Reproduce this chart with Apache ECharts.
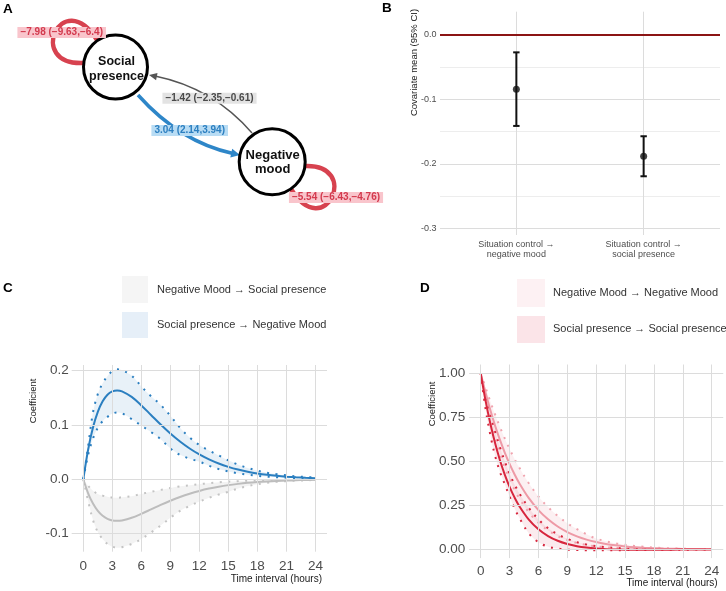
<!DOCTYPE html>
<html><head><meta charset="utf-8">
<script src="https://cdn.jsdelivr.net/npm/echarts@6/dist/echarts.min.js"></script>
<style>html,body{margin:0;padding:0;background:#fff}#c{width:726px;height:591px}</style>
</head><body><div id="c"></div>
<script>
// ---------- data ----------
// Panel A (network)
const nodeNames = ['Social\npresence', 'Negative\nmood'];
const edgeLabelText = ['−7.98 (−9.63,−6.4)', '−5.54 (−6.43,−4.76)', '−1.42 (−2.35,−0.61)', '3.04 (2.14,3.94)'];

// Panel B
const bCategories = ['Situation control →\nnegative mood', 'Situation control →\nsocial presence'];
const bMean  = [-0.084, -0.188];
const bLower = [-0.141, -0.219];
const bUpper = [-0.027, -0.157];
const bYTicks = [-0.3, -0.2, -0.1, 0.0];
const bYMinor = [-0.25, -0.15, -0.05];

// Panels C and D
const hours = [0,0.5,1,1.5,2,2.5,3,3.5,4,5,6,7,8,9,10,11,12,13,14,15,16,17,18,19,20,21,22,23,24];
const hourTicks = [0,3,6,9,12,15,18,21,24];
const cYTicks = [-0.1, 0.0, 0.1, 0.2];
const dYTicks = [0, 0.25, 0.5, 0.75, 1];

const spToNm   = [0,0.055,0.0955,0.1243,0.1437,0.1558,0.1620,0.1637,0.1620,0.1517,0.1361,0.1185,0.1009,0.0844,0.0697,0.0568,0.0458,0.0367,0.0291,0.0229,0.0179,0.0140,0.0108,0.0083,0.0064,0.0049,0.0037,0.0028,0.0021];
const spToNmHi = [0,0.061,0.123,0.157,0.177,0.19,0.199,0.2025,0.201,0.191,0.171,0.153,0.137,0.117,0.095,0.077,0.063,0.053,0.044,0.035,0.027,0.021,0.016,0.012,0.0095,0.0072,0.0055,0.0042,0.0032];
const spToNmLo = [0,0.045,0.075,0.095,0.107,0.115,0.121,0.123,0.1215,0.111,0.099,0.087,0.074,0.057,0.045,0.038,0.0325,0.025,0.019,0.0145,0.011,0.0085,0.0065,0.005,0.0038,0.003,0.0022,0.0017,0.0013];

const nmToSp   = [0,-0.0257,-0.0446,-0.0581,-0.0671,-0.0728,-0.0757,-0.0765,-0.0757,-0.0709,-0.0636,-0.0554,-0.0471,-0.0394,-0.0325,-0.0265,-0.0214,-0.0171,-0.0136,-0.0107,-0.0084,-0.0065,-0.0050,-0.0039,-0.0030,-0.0023,-0.0017,-0.0013,-0.0010];
const nmToSpHi = [0,-0.012,-0.021,-0.027,-0.030,-0.032,-0.0335,-0.034,-0.033,-0.031,-0.027,-0.023,-0.0195,-0.016,-0.013,-0.011,-0.009,-0.007,-0.0055,-0.0043,-0.0034,-0.0026,-0.002,-0.0015,-0.0012,-0.0009,-0.0007,-0.0005,-0.0004];
const nmToSpLo = [0,-0.04,-0.075,-0.097,-0.11,-0.119,-0.124,-0.126,-0.125,-0.119,-0.11,-0.098,-0.085,-0.071,-0.058,-0.049,-0.041,-0.034,-0.028,-0.023,-0.017,-0.0125,-0.009,-0.0065,-0.0047,-0.0034,-0.0025,-0.0018,-0.0013];

const spToSp   = [1,0.846,0.7143,0.6019,0.506,0.4244,0.355,0.2962,0.2464,0.1688,0.1138,0.0752,0.0484,0.0301,0.0177,0.0096,0.0043,0.001,-0.0009,-0.0019,-0.0024,-0.0025,-0.0024,-0.0022,-0.0019,-0.0017,-0.0014,-0.0012,-0.001];
const spToSpHi = [1,0.88,0.77,0.67,0.58,0.50,0.43,0.37,0.32,0.235,0.17,0.12,0.085,0.06,0.04,0.027,0.018,0.012,0.008,0.005,0.003,0.002,0.0012,0.0006,0.0003,0.0001,0,0,0];
const spToSpLo = [1,0.80,0.65,0.53,0.44,0.37,0.30,0.235,0.18,0.09,0.04,0.015,0.004,-0.002,-0.004,-0.005,-0.005,-0.005,-0.005,-0.0045,-0.004,-0.0035,-0.003,-0.0027,-0.0024,-0.002,-0.0018,-0.0015,-0.0013];

const nmToNm   = [1,0.8902,0.791,0.7016,0.6213,0.5494,0.485,0.4276,0.3764,0.2905,0.223,0.1703,0.1294,0.0979,0.0736,0.0551,0.0411,0.0305,0.0225,0.0165,0.012,0.0087,0.0063,0.0045,0.0032,0.0022,0.0015,0.0011,0.0007];
const nmToNmHi = [1,0.92,0.84,0.765,0.695,0.63,0.57,0.515,0.465,0.375,0.30,0.24,0.19,0.148,0.115,0.085,0.061,0.046,0.034,0.026,0.019,0.014,0.0098,0.007,0.005,0.0035,0.0025,0.0018,0.0012];
const nmToNmLo = [1,0.86,0.74,0.635,0.545,0.465,0.40,0.34,0.29,0.21,0.15,0.107,0.075,0.052,0.036,0.025,0.017,0.012,0.008,0.0055,0.0037,0.0025,0.0017,0.0011,0.0007,0.0005,0.0003,0.0002,0.0001];

const cLegend = ['Negative Mood → Social presence', 'Social presence → Negative Mood'];
const dLegend = ['Negative Mood → Negative Mood', 'Social presence → Social presence'];

// ---------- helpers ----------
const FONT = '"Liberation Sans", Arial, Helvetica, sans-serif';
const GRID = '#dcdcdc';
const pts = (xs, ys) => xs.map((x, i) => [x, ys[i]]);

function gridSeries(idx, xs, ys, minorYs) {
  const d = [];
  (minorYs || []).forEach(v => d.push({yAxis: v, lineStyle: {color: '#ededed', width: 1, type: 'solid'}}));
  ys.forEach(v => d.push({yAxis: v}));
  xs.forEach(v => d.push({xAxis: v}));
  return {type: 'line', xAxisIndex: idx, yAxisIndex: idx, data: [], silent: true, z: 0,
    markLine: {symbol: 'none', silent: true, animation: false, label: {show: false},
      emphasis: {disabled: true}, lineStyle: {color: GRID, width: 1, type: 'solid'}, data: d}};
}
// ribbon between lower and upper bounds, drawn as one polygon through the axis scales
function band(idx, lo, hi, color) {
  return {type: 'custom', xAxisIndex: idx, yAxisIndex: idx, silent: true, z: 1,
    data: hours.map((h, i) => [h, lo[i], hi[i]]),
    renderItem: function (params, api) {
      if (params.dataIndexInside !== 0) return null;
      const n = params.dataInsideLength;
      const up = [], dn = [];
      for (let i = 0; i < n; i++) {
        up.push(api.coord([api.value(0, i), api.value(2, i)]));
        dn.push(api.coord([api.value(0, i), api.value(1, i)]));
      }
      return {type: 'polygon', shape: {points: up.concat(dn.reverse()), smooth: 0.3},
        style: {fill: color, stroke: null}};
    }};
}
function dotted(idx, ys, color) {
  return {type: 'line', xAxisIndex: idx, yAxisIndex: idx, data: pts(hours, ys), symbol: 'none', smooth: 0.35,
    lineStyle: {color: color, width: 2, type: [2, 6.5], cap: 'butt'}, silent: true, z: 2};
}
function solid(idx, ys, color) {
  return {type: 'line', xAxisIndex: idx, yAxisIndex: idx, data: pts(hours, ys), symbol: 'none', smooth: 0.35,
    lineStyle: {color: color, width: 2}, silent: true, z: 3};
}
function valAxis(idx, min, max, ticks, fmt, fontSize, margin, lineHeight) {
  return {gridIndex: idx, type: 'value', min: min, max: max,
    axisLine: {show: false}, axisTick: {show: false}, splitLine: {show: false},
    axisLabel: {customValues: ticks, formatter: fmt, color: '#4d4d4d', fontSize: fontSize,
      lineHeight: lineHeight, fontFamily: FONT, margin: margin, hideOverlap: false}};
}

// ---------- panel A graphics ----------
const spC = [115.5, 67], nmC = [272.2, 161.7];
const RED = '#d7424f';
function lbl(text, x, y, fill, bg) {
  return {type: 'text', x: x, y: y, z: 50, style: {text: text, fill: fill, fontSize: 10, fontWeight: 'bold',
    fontFamily: FONT, align: 'center', verticalAlign: 'middle', backgroundColor: bg, padding: [1, 3, 0, 3]}};
}
const graphicA = [
  {type: 'bezierCurve', z: 10, shape: {x1: 84, y1: 63, cpx1: 25, cpy1: 66, cpx2: 62, cpy2: -15, x2: 97, y2: 40},
   style: {stroke: RED, lineWidth: 4.5, fill: null}},
  {type: 'bezierCurve', z: 10, shape: {x1: 304, y1: 166, cpx1: 362, cpy1: 163, cpx2: 325, cpy2: 244, x2: 291, y2: 189},
   style: {stroke: RED, lineWidth: 4.5, fill: null}},
  {type: 'bezierCurve', z: 10, shape: {x1: 138, y1: 95, cpx1: 180, cpy1: 142, x2: 233, y2: 153.5},
   style: {stroke: '#2e86c8', lineWidth: 3.5, fill: null}},
  {type: 'polygon', z: 11, shape: {points: [[240, 155], [230.3, 157.6], [232.2, 148.7]]}, style: {fill: '#2e86c8'}},
  {type: 'bezierCurve', z: 10, shape: {x1: 252, y1: 133, cpx1: 213, cpy1: 88, x2: 156, y2: 76.3},
   style: {stroke: '#555', lineWidth: 1.4, fill: null}},
  {type: 'polygon', z: 11, shape: {points: [[149, 75], [157.5, 73.0], [156.1, 80.2]]}, style: {fill: '#555'}},
  {type: 'circle', z: 20, shape: {cx: spC[0], cy: spC[1], r: 32}, style: {fill: '#fff', stroke: '#000', lineWidth: 3}},
  {type: 'circle', z: 20, shape: {cx: nmC[0], cy: nmC[1], r: 33}, style: {fill: '#fff', stroke: '#000', lineWidth: 3}},
  {type: 'text', z: 21, x: 116.5, y: 69, style: {text: nodeNames[0], fill: '#111', fontSize: 12.5, fontWeight: 'bold',
    fontFamily: FONT, align: 'center', verticalAlign: 'middle', lineHeight: 15}},
  {type: 'text', z: 21, x: 272.7, y: 162.2, style: {text: nodeNames[1], fill: '#111', fontSize: 13, fontWeight: 'bold',
    fontFamily: FONT, align: 'center', verticalAlign: 'middle', lineHeight: 14.5}},
  lbl(edgeLabelText[0], 61.7, 32.5, '#d33a4e', '#f9c5cc'),
  lbl(edgeLabelText[1], 336, 197.5, '#d33a4e', '#f9c5cc'),
  lbl(edgeLabelText[2], 209.5, 98.3, '#4a4a4a', '#e3e3e3'),
  lbl(edgeLabelText[3], 189.7, 130.5, '#2c7fc0', '#b8dcf4')
];

function txt(text, x, y, size, opts) {
  return Object.assign({type: 'text', x: x, y: y, z: 30, style: Object.assign({text: text, fill: '#1a1a1a',
    fontSize: size, fontFamily: FONT, align: 'left', verticalAlign: 'middle'}, (opts && opts.style) || {})},
    (opts && opts.el) || {});
}
const graphicText = [
  txt('A', 3, 9.5, 13.5, {style: {fontWeight: 'bold', fill: '#000'}}),
  txt('B', 382, 8.5, 13.5, {style: {fontWeight: 'bold', fill: '#000'}}),
  txt('C', 3, 288.5, 13.5, {style: {fontWeight: 'bold', fill: '#000'}}),
  txt('D', 420, 288.5, 13.5, {style: {fontWeight: 'bold', fill: '#000'}}),
  txt('Covariate mean (95% CI)', 414, 62.5, 9.5, {style: {align: 'center'}, el: {rotation: Math.PI / 2}}),
  txt('Coefficient', 33, 401, 9.5, {style: {align: 'center'}, el: {rotation: Math.PI / 2}}),
  txt('Coefficient', 432, 404, 9.5, {style: {align: 'center'}, el: {rotation: Math.PI / 2}}),
  txt('Time interval (hours)', 322, 579.5, 10, {style: {align: 'right'}}),
  txt('Time interval (hours)', 717.7, 583.5, 10, {style: {align: 'right'}}),
  // legends
  {type: 'rect', z: 30, shape: {x: 122, y: 276, width: 26, height: 27}, style: {fill: '#f5f5f5'}},
  {type: 'rect', z: 30, shape: {x: 122, y: 312, width: 26, height: 26}, style: {fill: '#e6eff8'}},
  txt(cLegend[0], 157, 289.5, 11, {style: {fill: '#333'}}),
  txt(cLegend[1], 157, 325, 11, {style: {fill: '#333'}}),
  {type: 'rect', z: 30, shape: {x: 517, y: 279, width: 28, height: 28}, style: {fill: '#fdf1f3'}},
  {type: 'rect', z: 30, shape: {x: 517, y: 316, width: 28, height: 27}, style: {fill: '#fbe4e8'}},
  txt(dLegend[0], 553, 293.3, 11, {style: {fill: '#333'}}),
  txt(dLegend[1], 553, 329.3, 11, {style: {fill: '#333'}})
];

// ---------- series ----------
const bErr = bMean.map((m, i) => [i + 1, bLower[i], bUpper[i]]);
const bPts = bMean.map((m, i) => [i + 1, m]);

const series = [
  gridSeries(0, [1, 2], bYTicks, bYMinor),
  {type: 'line', xAxisIndex: 0, yAxisIndex: 0, data: [], silent: true, z: 4,
   markLine: {symbol: 'none', silent: true, label: {show: false}, emphasis: {disabled: true},
     lineStyle: {color: '#8b1414', width: 2, type: 'solid'}, data: [{yAxis: 0}]}},
  {type: 'custom', xAxisIndex: 0, yAxisIndex: 0, data: bErr, silent: true, z: 5,
   renderItem: function (params, api) {
     const x = api.value(0);
     const lo = api.coord([x, api.value(1)]);
     const hi = api.coord([x, api.value(2)]);
     const st = {stroke: '#111', lineWidth: 2};
     return {type: 'group', children: [
       {type: 'line', shape: {x1: lo[0], y1: lo[1], x2: hi[0], y2: hi[1]}, style: st},
       {type: 'line', shape: {x1: lo[0] - 3.2, y1: lo[1], x2: lo[0] + 3.2, y2: lo[1]}, style: st},
       {type: 'line', shape: {x1: hi[0] - 3.2, y1: hi[1], x2: hi[0] + 3.2, y2: hi[1]}, style: st}
     ]};
   }},
  {type: 'scatter', xAxisIndex: 0, yAxisIndex: 0, data: bPts, symbolSize: 7, itemStyle: {color: '#111'}, silent: true, z: 6},

  // panel C
  gridSeries(1, hourTicks, cYTicks),
  band(1, nmToSpLo, nmToSpHi, 'rgba(190,190,190,0.18)'),
  band(1, spToNmLo, spToNmHi, 'rgba(43,127,192,0.11)'),
  dotted(1, nmToSpLo, '#c4c4c4'), dotted(1, nmToSpHi, '#c4c4c4'),
  dotted(1, spToNmLo, '#2b7fc0'), dotted(1, spToNmHi, '#2b7fc0'),
  solid(1, nmToSp, '#bdbdbd'), solid(1, spToNm, '#2b7fc0'),

  // panel D
  gridSeries(2, hourTicks, dYTicks),
  band(2, nmToNmLo, nmToNmHi, 'rgba(238,154,166,0.15)'),
  band(2, spToSpLo, spToSpHi, 'rgba(215,38,61,0.09)'),
  dotted(2, nmToNmLo, '#f0a3ae'), dotted(2, nmToNmHi, '#f0a3ae'),
  dotted(2, spToSpLo, '#d7263d'), dotted(2, spToSpHi, '#d7263d'),
  solid(2, nmToNm, '#ee9aa6'), solid(2, spToSp, '#d7263d')
];

const option = {
  animation: false,
  backgroundColor: '#fff',
  textStyle: {fontFamily: FONT},
  grid: [
    {left: 440, top: 11.7, width: 280, height: 223.3, containLabel: false, outerBoundsMode: 'none'},
    {left: 71.7, top: 365, width: 255.3, height: 186.7, containLabel: false, outerBoundsMode: 'none'},
    {left: 469.15, top: 364.5, width: 254.1, height: 193.6, containLabel: false, outerBoundsMode: 'none'}
  ],
  xAxis: [
    valAxis(0, 0.4, 2.6, [1, 2], v => bCategories[Math.round(v) - 1], 9, 4.5, 10),
    valAxis(1, -1.2, 25.2, hourTicks, v => String(v), 13.5, 7.5),
    valAxis(2, -1.2, 25.2, hourTicks, v => String(v), 13.5, 6)
  ],
  yAxis: [
    valAxis(0, -0.31, 0.036, bYTicks, v => v.toFixed(1), 9, 3.5),
    valAxis(1, -0.1333, 0.2105, cYTicks, v => v.toFixed(1), 13.5, 3),
    valAxis(2, -0.05, 1.05, dYTicks, v => v.toFixed(2), 13.5, 4)
  ],
  graphic: graphicA.concat(graphicText),
  series: series
};

const chart = echarts.init(document.getElementById('c'), null, {renderer: 'canvas'});
chart.setOption(option);
</script>
</body></html>
